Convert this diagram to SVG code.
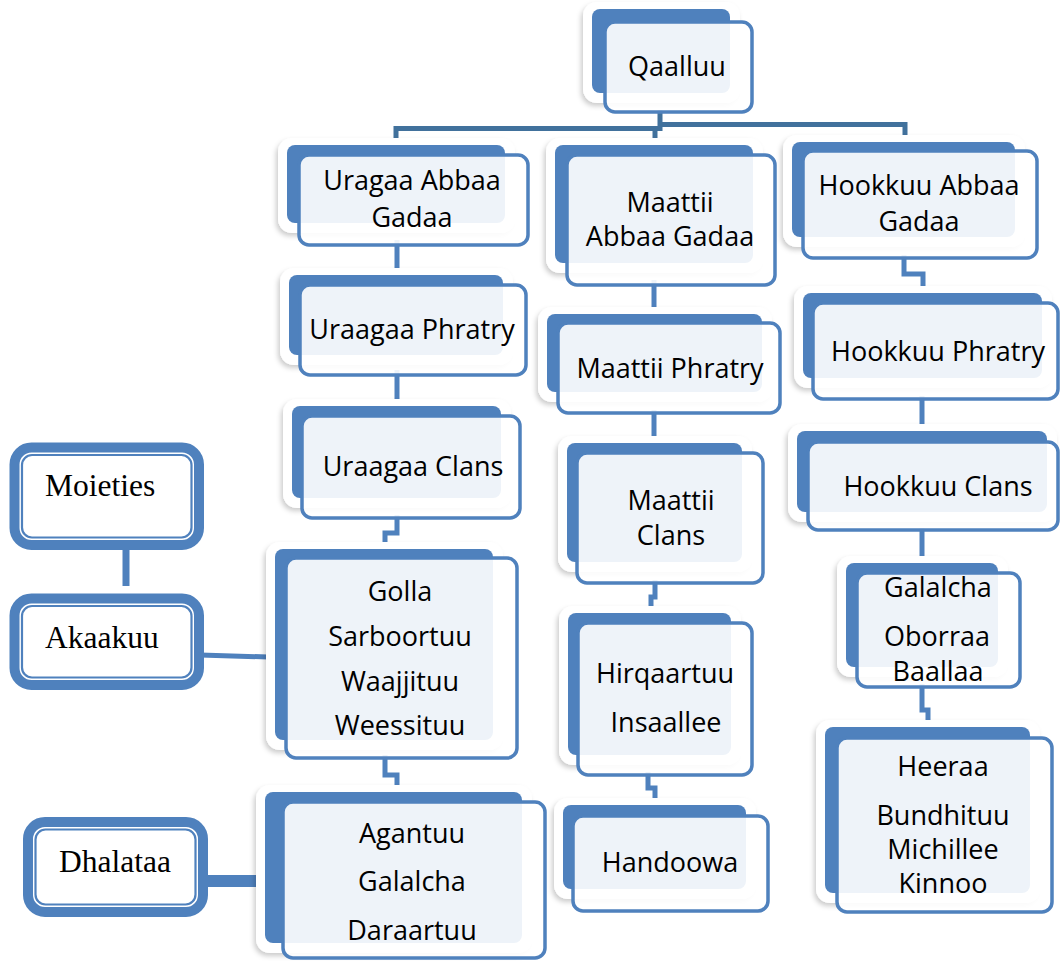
<svg xmlns="http://www.w3.org/2000/svg" width="1060" height="962" viewBox="0 0 1060 962">
<defs>
<filter id="sh" x="-20%" y="-20%" width="140%" height="140%">
<feDropShadow dx="-2" dy="3" stdDeviation="2.5" flood-color="#000" flood-opacity="0.2"/>
</filter>
</defs>
<style>
.sd{fill:#fff;filter:url(#sh)}
.bl{fill:#4F81BD}
.fr{fill:#fff;fill-opacity:0.9;stroke:#4F81BD;stroke-width:3.5}
.t{font-family:"Open Sans","Noto Sans",sans-serif;font-size:27px;fill:#000;text-anchor:middle}
.s{font-family:"Liberation Serif","Times New Roman",serif;font-size:31.5px;fill:#000}
.c{fill:none;stroke:#4F81BD;stroke-width:5}
.ct{fill:none;stroke:#41719C;stroke-width:5}
.ob{fill:#fff;stroke:#4F81BD;stroke-width:10}
.ib{fill:none;stroke:#4F81BD;stroke-width:2.2}
</style>
<rect width="1060" height="962" fill="#fff"/>
<g id="connectors">
<path class="ct" d="M396,146 V128.5 H660 V110"/>
<path class="ct" d="M655,128.5 V146"/>
<path class="ct" d="M660,124.5 H905 V140"/>
<path class="c" d="M397,240 V280"/>
<path class="c" d="M397,370 V410"/>
<path class="c" d="M397,515 V533 H385 V555"/>
<path class="c" d="M385,755 V775 H397 V795"/>
<path class="c" d="M654,280 V318"/>
<path class="c" d="M654,410 V447"/>
<path class="c" d="M655,580 V597 H651 V617"/>
<path class="c" d="M648,772 V788 H655 V809"/>
<path class="c" d="M904,255 V274 H923 V297"/>
<path class="c" d="M922,396 V435"/>
<path class="c" d="M922,528 V567"/>
<path class="c" d="M922,684 V710 H928 V731"/>
<path class="c" d="M126,545 V586" style="stroke-width:7"/>
<path class="c" d="M200,655 L268,657"/>
<path class="c" d="M204,881 H268" style="stroke-width:12"/>
</g>
<g id="qaalluu">
<rect class="sd" x="583" y="2" width="157" height="101" rx="14"/>
<rect class="bl" x="592" y="9" width="138" height="84" rx="8"/>
<rect class="fr" x="605" y="22" width="147" height="90" rx="10"/>
<text class="t" x="677" y="76">Qaalluu</text>
</g>
<g id="uragaa-abbaa-gadaa">
<rect class="sd" x="278" y="138" width="237" height="95" rx="14"/>
<rect class="bl" x="287" y="145" width="218" height="78" rx="8"/>
<rect class="fr" x="299" y="155" width="229" height="90" rx="10"/>
<text class="t" x="412" y="190">Uragaa Abbaa</text>
<text class="t" x="412" y="227">Gadaa</text>
</g>
<g id="uraagaa-phratry">
<rect class="sd" x="280" y="268" width="233" height="97" rx="14"/>
<rect class="bl" x="289" y="275" width="214" height="80" rx="8"/>
<rect class="fr" x="300" y="285" width="226" height="90" rx="10"/>
<text class="t" x="412" y="339">Uraagaa Phratry</text>
</g>
<g id="uraagaa-clans">
<rect class="sd" x="283" y="399" width="228" height="109" rx="14"/>
<rect class="bl" x="292" y="406" width="209" height="92" rx="8"/>
<rect class="fr" x="302" y="416" width="218" height="102" rx="10"/>
<text class="t" x="413" y="476">Uraagaa Clans</text>
</g>
<g id="golla">
<rect class="sd" x="266" y="542" width="237" height="208" rx="14"/>
<rect class="bl" x="275" y="549" width="218" height="191" rx="8"/>
<rect class="fr" x="286" y="558" width="231" height="200" rx="10"/>
<text class="t" x="400" y="601">Golla</text>
<text class="t" x="400" y="646">Sarboortuu</text>
<text class="t" x="400" y="691">Waajjituu</text>
<text class="t" x="400" y="735">Weessituu</text>
</g>
<g id="agantuu">
<rect class="sd" x="256" y="785" width="276" height="168" rx="14"/>
<rect class="bl" x="265" y="792" width="257" height="151" rx="8"/>
<rect class="fr" x="283" y="802" width="262" height="156" rx="10"/>
<text class="t" x="412" y="843">Agantuu</text>
<text class="t" x="412" y="891">Galalcha</text>
<text class="t" x="412" y="940">Daraartuu</text>
</g>
<g id="maattii-abbaa-gadaa">
<rect class="sd" x="546" y="138" width="217" height="135" rx="14"/>
<rect class="bl" x="555" y="145" width="198" height="118" rx="8"/>
<rect class="fr" x="567" y="155" width="208" height="130" rx="10"/>
<text class="t" x="670" y="212">Maattii</text>
<text class="t" x="670" y="246">Abbaa Gadaa</text>
</g>
<g id="maattii-phratry">
<rect class="sd" x="538" y="307" width="234" height="95" rx="14"/>
<rect class="bl" x="547" y="314" width="215" height="78" rx="8"/>
<rect class="fr" x="558" y="323" width="222" height="90" rx="10"/>
<text class="t" x="670" y="378">Maattii Phratry</text>
</g>
<g id="maattii-clans">
<rect class="sd" x="558" y="436" width="194" height="136" rx="14"/>
<rect class="bl" x="567" y="443" width="175" height="119" rx="8"/>
<rect class="fr" x="577" y="453" width="186" height="130" rx="10"/>
<text class="t" x="671" y="510">Maattii</text>
<text class="t" x="671" y="545">Clans</text>
</g>
<g id="hirqaartuu">
<rect class="sd" x="559" y="606" width="182" height="159" rx="14"/>
<rect class="bl" x="568" y="613" width="163" height="142" rx="8"/>
<rect class="fr" x="578" y="623" width="174" height="152" rx="10"/>
<text class="t" x="665" y="683">Hirqaartuu</text>
<text class="t" x="666" y="732">Insaallee</text>
</g>
<g id="handoowa">
<rect class="sd" x="554" y="798" width="202" height="101" rx="14"/>
<rect class="bl" x="563" y="805" width="183" height="84" rx="8"/>
<rect class="fr" x="573" y="816" width="195" height="95" rx="10"/>
<text class="t" x="670" y="872">Handoowa</text>
</g>
<g id="hookkuu-abbaa-gadaa">
<rect class="sd" x="783" y="135" width="242" height="112" rx="14"/>
<rect class="bl" x="792" y="142" width="223" height="95" rx="8"/>
<rect class="fr" x="803" y="151" width="234" height="107" rx="10"/>
<text class="t" x="919" y="195">Hookkuu Abbaa</text>
<text class="t" x="919" y="231">Gadaa</text>
</g>
<g id="hookkuu-phratry">
<rect class="sd" x="794" y="286" width="258" height="102" rx="14"/>
<rect class="bl" x="803" y="293" width="239" height="85" rx="8"/>
<rect class="fr" x="813" y="303" width="245" height="96" rx="10"/>
<text class="t" x="938" y="361">Hookkuu Phratry</text>
</g>
<g id="hookkuu-clans">
<rect class="sd" x="788" y="424" width="269" height="98" rx="14"/>
<rect class="bl" x="797" y="431" width="250" height="81" rx="8"/>
<rect class="fr" x="808" y="442" width="250" height="88" rx="10"/>
<text class="t" x="938" y="496">Hookkuu Clans</text>
</g>
<g id="galalcha-oborraa">
<rect class="sd" x="837" y="556" width="171" height="121" rx="14"/>
<rect class="bl" x="846" y="563" width="152" height="104" rx="8"/>
<rect class="fr" x="857" y="573" width="163" height="114" rx="10"/>
<text class="t" x="938" y="597">Galalcha</text>
<text class="t" x="937" y="646">Oborraa</text>
<text class="t" x="938" y="681">Baallaa</text>
</g>
<g id="heeraa">
<rect class="sd" x="816" y="720" width="224" height="183" rx="14"/>
<rect class="bl" x="825" y="727" width="205" height="166" rx="8"/>
<rect class="fr" x="837" y="738" width="215" height="174" rx="10"/>
<text class="t" x="943" y="776">Heeraa</text>
<text class="t" x="943" y="825">Bundhituu</text>
<text class="t" x="943" y="859">Michillee</text>
<text class="t" x="943" y="893">Kinnoo</text>
</g>
<g id="moieties">
<rect class="ob" x="14.5" y="447.5" width="184.5" height="97.5" rx="17"/>
<rect class="ib" x="22" y="455" width="169.5" height="82.5" rx="10"/>
<text class="s" x="45" y="496">Moieties</text>
</g>
<g id="akaakuu">
<rect class="ob" x="14.5" y="598.5" width="184.5" height="86.5" rx="17"/>
<rect class="ib" x="22" y="606" width="169.5" height="71.5" rx="10"/>
<text class="s" x="45" y="648">Akaakuu</text>
</g>
<g id="dhalataa">
<rect class="ob" x="28" y="822" width="175" height="90" rx="17"/>
<rect class="ib" x="35.5" y="829.5" width="160" height="75" rx="10"/>
<text class="s" x="59" y="872">Dhalataa</text>
</g>
</svg>
